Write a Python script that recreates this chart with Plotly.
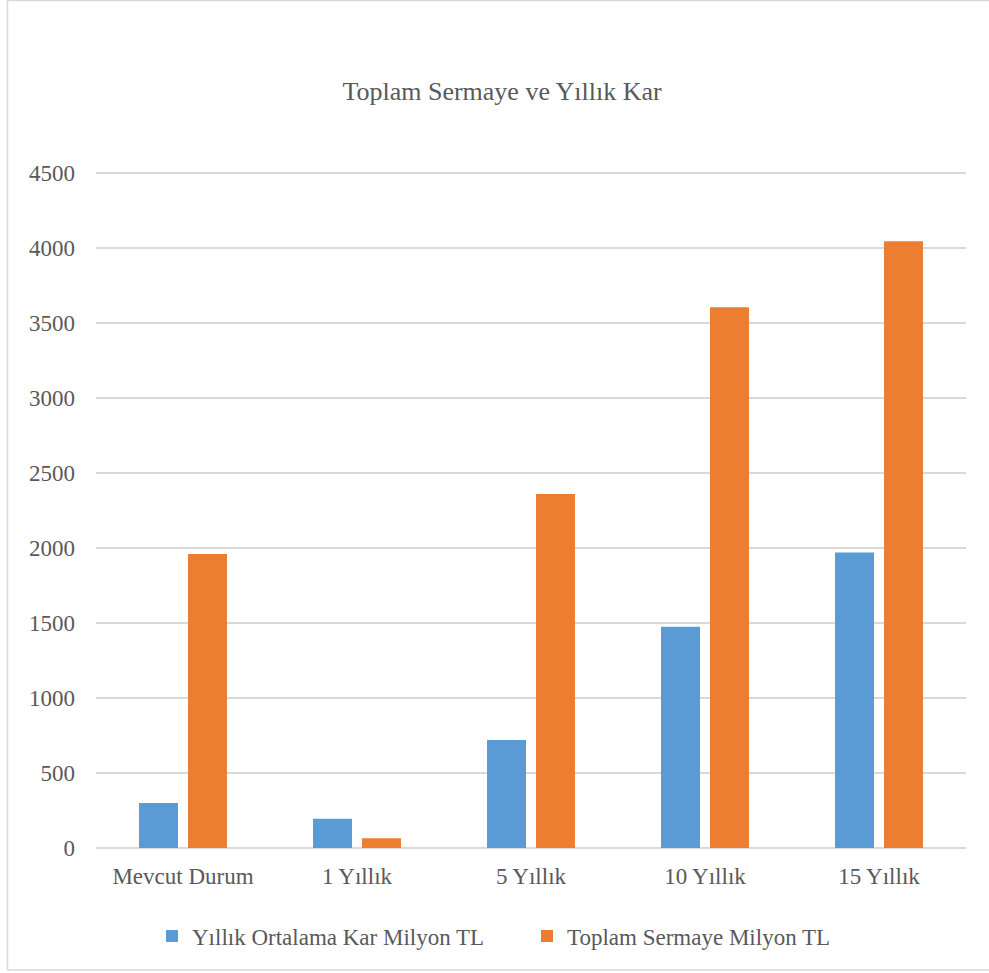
import plotly.graph_objects as go

categories = ["Mevcut Durum", "1 Yıllık", "5 Yıllık", "10 Yıllık", "15 Yıllık"]
kar = [300, 195, 720, 1475, 1970]
sermaye = [1960, 65, 2360, 3605, 4045]
series_names = ["Yıllık Ortalama Kar Milyon TL", "Toplam Sermaye Milyon TL"]
tick_vals = [0, 500, 1000, 1500, 2000, 2500, 3000, 3500, 4000, 4500]

FONT = "Liberation Serif, Times New Roman, serif"
TXT = "#595959"
GRID = "#d9d9d9"

fig = go.Figure()
fig.add_trace(go.Bar(x=categories, y=kar, name=series_names[0],
                     marker=dict(color="#5b9bd5", line=dict(width=0))))
fig.add_trace(go.Bar(x=categories, y=sermaye, name=series_names[1],
                     marker=dict(color="#ed7d31", line=dict(width=0))))

L, R, T, B = 96, 23, 165, 125
W, H = 989, 973
pw, ph = W - L - R, H - T - B
YMAX = 4500 * ph / 675.0

def px2x(p):
    return (p - L) / pw

def px2y(p):
    return (H - B - p) / ph

fig.update_layout(
    width=W, height=H,
    margin=dict(l=L, r=R, t=T, b=B, pad=0),
    paper_bgcolor="white", plot_bgcolor="white",
    font=dict(family=FONT, size=23, color=TXT),
    barmode="group", bargap=0.437, bargroupgap=0.204,
    title=dict(text="Toplam Sermaye ve Yıllık Kar", x=502 / W, xanchor="center",
               y=1 - 91 / H, yanchor="middle",
               font=dict(family=FONT, size=26, color=TXT)),
    xaxis=dict(showgrid=False, showline=False, ticks="", zeroline=False,
               tickfont=dict(family=FONT, size=23, color=TXT), ticklabelstandoff=12),
    yaxis=dict(range=[0, YMAX], tickvals=tick_vals, showgrid=True, gridcolor=GRID,
               gridwidth=1.5, zeroline=True, zerolinecolor=GRID, zerolinewidth=1.5,
               showline=False, ticks="", ticklabelstandoff=20,
               tickfont=dict(family=FONT, size=23, color=TXT)),
    legend=dict(orientation="h", x=px2x(152), xanchor="left", y=px2y(936), yanchor="middle",
                font=dict(family=FONT, size=23, color=TXT), entrywidth=330,
                entrywidthmode="pixels", bgcolor="rgba(0,0,0,0)", itemclick=False),
    showlegend=True,
)

fig.add_shape(type="rect", xref="paper", yref="paper",
              x0=px2x(7.5), x1=px2x(1000), y0=px2y(970), y1=px2y(0.5),
              line=dict(color=GRID, width=1.5), fillcolor="rgba(0,0,0,0)", layer="below")

fig.write_html("out.html")
